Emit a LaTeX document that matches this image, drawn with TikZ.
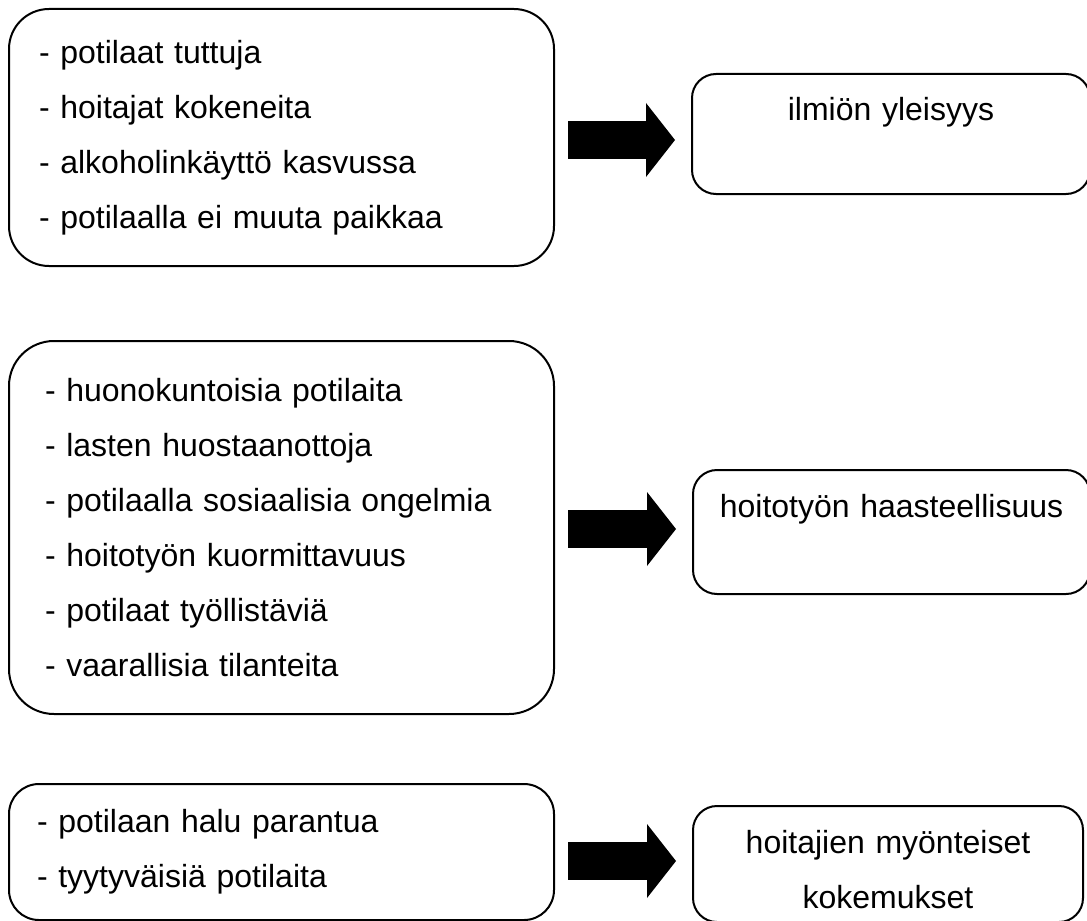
\documentclass[tikz,border=0pt]{standalone}
\usepackage{fontspec}
\setmainfont{Liberation Sans}
\usetikzlibrary{arrows.meta,calc}
\tikzstyle{lista}=[draw, line width=1.5pt, anchor=north west, align=left, font=\fontsize{24pt}{41.25pt}\selectfont]
\tikzstyle{tulos}=[draw, line width=1.5pt, anchor=north, align=center, inner xsep=0pt, inner ysep=0pt, rounded corners=18pt, text height=35.25pt, font=\fontsize{24pt}{41.25pt}\selectfont]
\tikzstyle{nuoli}=[line width=28.5pt, -{Triangle[length=21.75pt, width=55.5pt, line width=0pt]}]

\begin{document}
\begin{tikzpicture}[x=0.75pt, y=-0.75pt]
  \useasboundingbox (0,0) rectangle (1087,920);
  % vasen sarake
  \node[lista, rounded corners=30pt, inner xsep=22.5pt, text width=363.75pt, minimum height=192.75pt] (b1) at (8,8)
    {- potilaat tuttuja\\ - hoitajat kokeneita\\ - alkoholinkäyttö kasvussa\\ - potilaalla ei muuta paikkaa};
  \node[lista, rounded corners=33.75pt, inner xsep=27pt, text width=354.75pt, minimum height=279.75pt] (b2) at (8,340)
    {- huonokuntoisia potilaita\\ - lasten huostaanottoja\\ - potilaalla sosiaalisia ongelmia\\ - hoitotyön kuormittavuus\\ - potilaat työllistäviä\\ - vaarallisia tilanteita};
  \node[lista, rounded corners=22.5pt, inner xsep=21pt, text width=366.75pt, minimum height=102pt] (b3) at (8,783)
    {- potilaan halu parantua\\ - tyytyväisiä potilaita};
  % oikea sarake
  \node[tulos, text width=298.5pt, text depth=54.75pt] (r1) at (891,73) {ilmiön yleisyys};
  \node[tulos, text width=297.75pt, text depth=57.75pt] (r2) at (891.5,469) {hoitotyön haasteellisuus};
  \node[tulos, text width=292.5pt, text depth=51.75pt] (r3) at (888,805) {hoitajien myönteiset\\ kokemukset};
  % nuolet
  \draw[nuoli] ($(b1.east)+(13,2.5)$) -- ($(b1.east -| r1.west)+(-16,2.5)$);
  \draw[nuoli] ($(b2.east)+(13,1.5)$) -- ($(b2.east -| r2.west)+(-16,1.5)$);
  \draw[nuoli] ($(b3.east)+(13,9)$) -- ($(b3.east -| r3.west)+(-16,9)$);
\end{tikzpicture}
\end{document}
